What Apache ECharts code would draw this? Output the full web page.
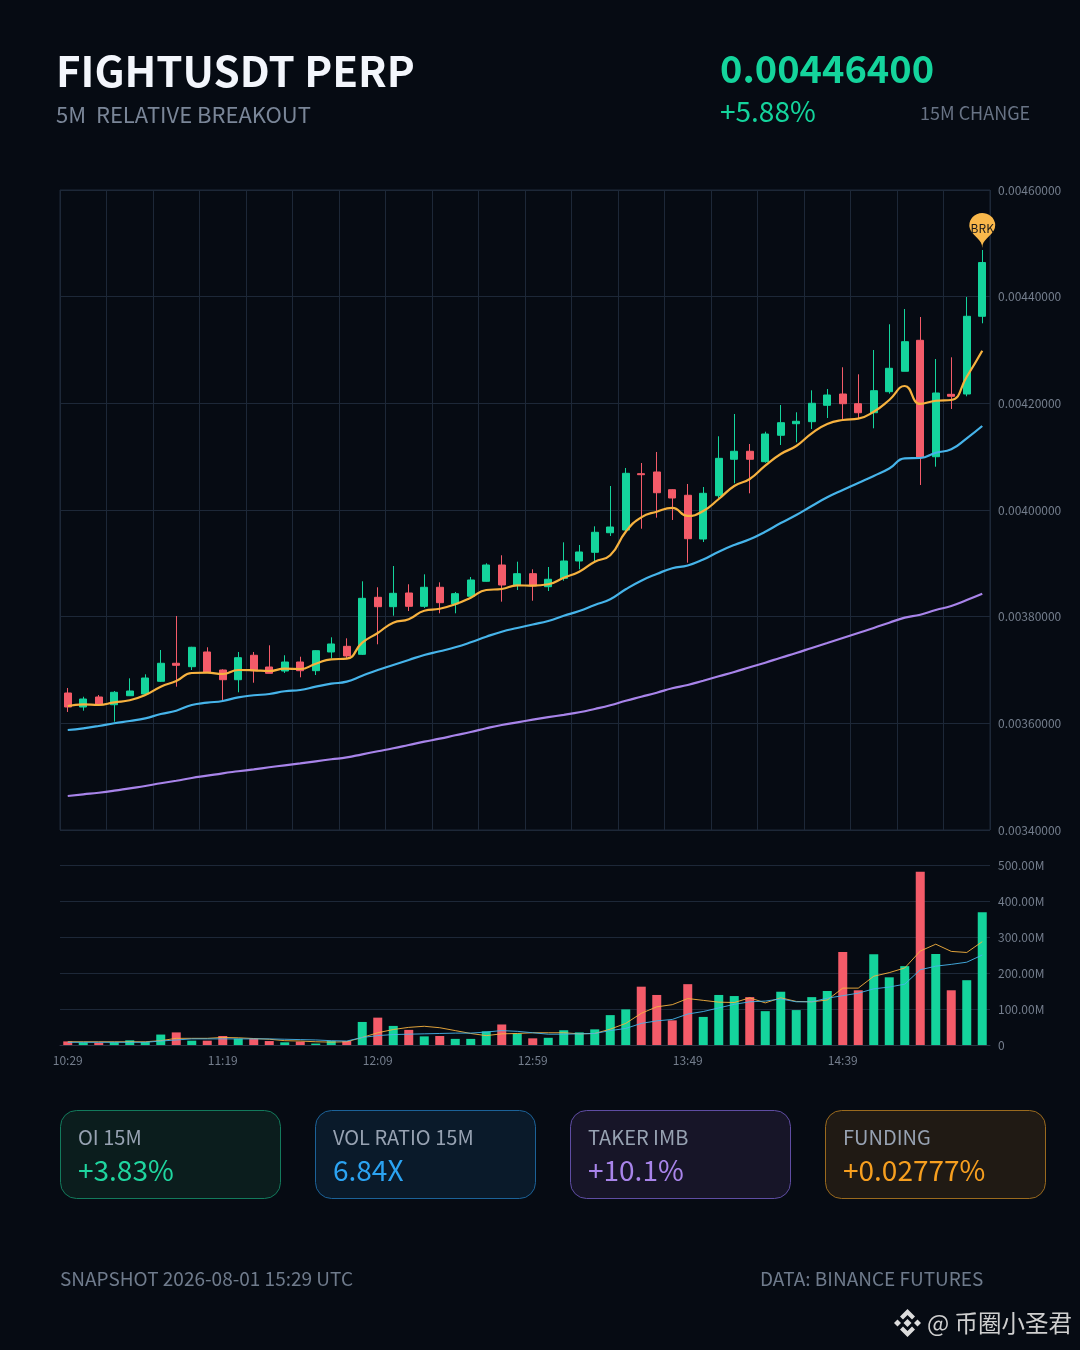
<!DOCTYPE html>
<html>
<head>
<meta charset="utf-8">
<style>
html,body{margin:0;padding:0;background:#060b13;}
#chart{width:1080px;height:1350px;}
</style>
<script src="https://cdn.jsdelivr.net/npm/echarts@6/dist/echarts.min.js"></script>
</head>
<body>
<div id="chart"></div>
<script>
const times = ['10:29','10:34','10:39','10:44','10:49','10:54','10:59','11:04','11:09','11:14','11:19','11:24','11:29','11:34','11:39','11:44','11:49','11:54','11:59','12:04','12:09','12:14','12:19','12:24','12:29','12:34','12:39','12:44','12:49','12:54','12:59','13:04','13:09','13:14','13:19','13:24','13:29','13:34','13:39','13:44','13:49','13:54','13:59','14:04','14:09','14:14','14:19','14:24','14:29','14:34','14:39','14:44','14:49','14:54','14:59','15:04','15:09','15:14','15:19','15:24'];
const opens = [0.0036569,0.0036306,0.0036494,0.0036349,0.0036518,0.0036550,0.0036788,0.0037126,0.0037062,0.0037338,0.0037000,0.0036818,0.0037276,0.0037056,0.0036981,0.0037150,0.0036987,0.0037338,0.0037444,0.0037294,0.0038363,0.0038187,0.0038444,0.0038194,0.0038551,0.0038238,0.0038382,0.0038663,0.0038969,0.0038594,0.0038806,0.0038562,0.0038719,0.0039044,0.0039207,0.0039574,0.0039625,0.0040681,0.0040713,0.0040381,0.0040276,0.0039456,0.0040268,0.0040951,0.0041101,0.0040906,0.0041401,0.0041618,0.0041656,0.0041963,0.0042175,0.0041993,0.0041824,0.0042218,0.0042601,0.0043182,0.0040999,0.0042169,0.0042175,0.0043632];
const closes = [0.0036306,0.0036456,0.0036349,0.0036582,0.0036606,0.0036850,0.0037126,0.0037088,0.0037426,0.0036963,0.0036818,0.0037231,0.0036987,0.0036938,0.0037150,0.0036987,0.0037362,0.0037488,0.0037263,0.0038344,0.0038187,0.0038438,0.0038194,0.0038551,0.0038262,0.0038431,0.0038688,0.0038969,0.0038594,0.0038806,0.0038575,0.0038701,0.0039044,0.0039213,0.0039582,0.0039681,0.0040688,0.0040662,0.0040324,0.0040225,0.0039462,0.0040313,0.0040969,0.0041101,0.0040951,0.0041425,0.0041637,0.0041663,0.0042001,0.0042156,0.0041993,0.0041824,0.0042237,0.0042657,0.0043156,0.0040981,0.0042194,0.0042132,0.0043632,0.0044640];
const lows = [0.0036213,0.0036237,0.0036344,0.0036031,0.0036518,0.0036550,0.0036775,0.0036687,0.0037000,0.0036963,0.0036438,0.0036582,0.0036762,0.0036938,0.0036944,0.0036863,0.0036906,0.0037219,0.0037219,0.0037281,0.0037482,0.0038018,0.0038106,0.0038163,0.0038063,0.0038063,0.0038344,0.0038656,0.0038281,0.0038500,0.0038299,0.0038481,0.0038674,0.0038888,0.0039031,0.0039513,0.0039593,0.0039649,0.0039856,0.0039813,0.0039012,0.0039400,0.0040225,0.0040501,0.0040313,0.0040887,0.0041219,0.0041269,0.0041519,0.0041725,0.0041688,0.0041719,0.0041532,0.0042181,0.0042601,0.0040469,0.0040812,0.0041894,0.0042132,0.0043501];
const highs = [0.0036663,0.0036499,0.0036531,0.0036606,0.0036844,0.0036919,0.0037375,0.0038013,0.0037435,0.0037426,0.0037013,0.0037338,0.0037338,0.0037463,0.0037276,0.0037249,0.0037370,0.0037613,0.0037594,0.0038663,0.0038551,0.0038950,0.0038607,0.0038794,0.0038644,0.0038463,0.0038744,0.0039001,0.0039151,0.0039031,0.0038888,0.0038931,0.0039394,0.0039344,0.0039694,0.0040450,0.0040788,0.0040881,0.0041088,0.0040389,0.0040488,0.0040431,0.0041382,0.0041800,0.0041238,0.0041468,0.0041969,0.0041832,0.0042244,0.0042269,0.0042676,0.0042544,0.0043000,0.0043482,0.0043769,0.0043619,0.0042831,0.0042863,0.0043994,0.0044875];
const maFast = [0.0036325,0.0036357,0.0036344,0.0036394,0.0036432,0.0036531,0.0036687,0.0036794,0.0036944,0.0036949,0.0036925,0.0037000,0.0036994,0.0036981,0.0037024,0.0037019,0.0037118,0.0037201,0.0037212,0.0037512,0.0037694,0.0037887,0.0037951,0.0038112,0.0038149,0.0038232,0.0038356,0.0038500,0.0038519,0.0038588,0.0038581,0.0038607,0.0038731,0.0038843,0.0039031,0.0039151,0.0039593,0.0039863,0.0039968,0.0040038,0.0039888,0.0039981,0.0040206,0.0040450,0.0040581,0.0040831,0.0041050,0.0041200,0.0041438,0.0041613,0.0041688,0.0041712,0.0041843,0.0042063,0.0042325,0.0041988,0.0042049,0.0042063,0.0042499,0.0042987];
const maMid = [0.0035875,0.0035907,0.0035950,0.0036001,0.0036044,0.0036094,0.0036175,0.0036237,0.0036344,0.0036387,0.0036419,0.0036488,0.0036526,0.0036550,0.0036601,0.0036625,0.0036687,0.0036743,0.0036781,0.0036893,0.0037000,0.0037094,0.0037188,0.0037281,0.0037351,0.0037426,0.0037519,0.0037624,0.0037718,0.0037788,0.0037853,0.0037919,0.0038018,0.0038106,0.0038219,0.0038326,0.0038513,0.0038674,0.0038800,0.0038907,0.0038959,0.0039072,0.0039218,0.0039344,0.0039451,0.0039593,0.0039756,0.0039906,0.0040075,0.0040238,0.0040375,0.0040506,0.0040638,0.0040778,0.0040969,0.0040975,0.0041074,0.0041138,0.0041344,0.0041575];
const maSlow = [0.0034638,0.0034669,0.0034699,0.0034737,0.0034782,0.0034825,0.0034876,0.0034924,0.0034975,0.0035018,0.0035063,0.0035101,0.0035138,0.0035176,0.0035213,0.0035249,0.0035288,0.0035326,0.0035361,0.0035419,0.0035476,0.0035532,0.0035594,0.0035656,0.0035712,0.0035776,0.0035838,0.0035907,0.0035969,0.0036019,0.0036068,0.0036115,0.0036160,0.0036207,0.0036269,0.0036338,0.0036424,0.0036499,0.0036574,0.0036657,0.0036719,0.0036799,0.0036882,0.0036963,0.0037051,0.0037137,0.0037231,0.0037319,0.0037413,0.0037506,0.0037600,0.0037694,0.0037788,0.0037887,0.0037981,0.0038037,0.0038125,0.0038200,0.0038313,0.0038431];
const volumes = [10,7,6.5,7.5,13,8,29,35,12,12,25,17.5,17.5,11,7.5,9.5,4,11,11,64,76,53,42,24,25,17,17,38,57,31.5,18.5,20,41,35,43.5,83,99,162,139,68.5,169,78,139,136,133,94,148,97,133,150,258,152,252,188,219,481,253,152,180,369];
const volMaFast = [9,9,9,9,9,9,12,18.5,18.5,18.5,21,20,18,16,12,11,9,8,9,21,34,43,49,52,48,40,32,26,31,32,34,34,34,31,32,44,60,88,106,112,129,124,119,118,131,117,131,121,120,125,158,158,191,201,214,261,280,260,257,287];
const volMaMid = [7.5,7.5,7.5,7.5,7.5,7.5,11,14,17,17,17,17,17,17,16,15,14,12,11,21,26,29,30,31,32,33,33,36,40,38,34,30,30,31,32,40,46,60,67,71,86,93,103,113,120,122,128,120,120,130,137,144,156,161,169,209,219,224,230,250];
const priceTicks = {min:0.0034,max:0.0046,interval:0.0002};
const volumeTicks = {min:0,max:500,interval:100};

const UP='#14d49c',DOWN='#f45b69',ORANGE='#f7b23f',BLUE='#46b4ea',PURPLE='#a884ea';
const GRIDC='#1d2838',FONT='"Noto Sans CJK SC","Noto Sans",sans-serif',AXC='#747e8d';
const isUp=i=>closes[i]>=opens[i];
const lineSeries=(data,color,width,xi,yi,smooth,opacity)=>({type:'line',data,xAxisIndex:xi,yAxisIndex:yi,smooth,showSymbol:false,symbol:'none',silent:true,animation:false,lineStyle:{color,width,opacity},z:5});
const txt=(x,y,text,size,fill,weight,align)=>({type:'text',x,y,silent:true,style:{text,fontSize:size,fill,fontWeight:weight||'normal',fontFamily:FONT,align:align||'left',verticalAlign:'middle'}});
const card=(x,fill,stroke,label,value,vcolor)=>[
 {type:'rect',x,y:1110.5,shape:{width:220,height:88,r:16},style:{fill,stroke,lineWidth:1},silent:true},
 txt(x+17.5,1137.5,label,20,'#97a2b2'),
 txt(x+17.5,1170.5,value,28,vcolor)
];
const logoPiece=pts=>({type:'polygon',silent:true,shape:{points:pts},style:{fill:'#dcdcdc'}});
const logoPieces=[
 [[907.5,1319],[911.5,1323],[907.5,1327],[903.5,1323]],
 [[897.5,1319.5],[901,1323],[897.5,1326.5],[894,1323]],
 [[917.5,1319.5],[921,1323],[917.5,1326.5],[914,1323]],
 [[907.5,1309],[915,1316.5],[912,1319.5],[907.5,1315],[903,1319.5],[900,1316.5]],
 [[907.5,1337],[915,1329.5],[912,1326.5],[907.5,1331],[903,1326.5],[900,1329.5]]
];

const option={
 backgroundColor:'#060b13',
 animation:false,
 textStyle:{fontFamily:FONT},
 grid:[
  {left:60,right:90,top:190,height:640,show:true,borderColor:GRIDC,borderWidth:1,backgroundColor:'transparent'},
  {left:60,right:90,top:865,height:180}
 ],
 xAxis:[
  {type:'category',gridIndex:0,data:times,boundaryGap:true,axisLine:{show:false},axisTick:{show:false},axisLabel:{show:false},splitLine:{show:true,interval:2,lineStyle:{color:GRIDC,width:1}}},
  {type:'category',gridIndex:1,data:times,boundaryGap:true,axisLine:{show:true,lineStyle:{color:'#2a3342'}},axisTick:{show:false},axisLabel:{interval:9,color:AXC,fontSize:12,margin:9,fontFamily:FONT},splitLine:{show:false}}
 ],
 yAxis:[
  {type:'value',gridIndex:0,position:'right',min:priceTicks.min,max:priceTicks.max,interval:priceTicks.interval,axisLine:{show:false},axisTick:{show:false},axisLabel:{color:AXC,fontSize:12,margin:8,padding:[1,0,0,0],fontFamily:FONT,formatter:v=>v.toFixed(8)},splitLine:{show:true,lineStyle:{color:GRIDC,width:1}}},
  {type:'value',gridIndex:1,position:'right',min:volumeTicks.min,max:volumeTicks.max,interval:volumeTicks.interval,axisLine:{show:false},axisTick:{show:false},axisLabel:{color:AXC,fontSize:12,margin:8,padding:[2,0,0,0],fontFamily:FONT,formatter:v=>v===0?'0':v.toFixed(2)+'M'},splitLine:{show:true,lineStyle:{color:GRIDC,width:1}}}
 ],
 series:[
  {type:'candlestick',xAxisIndex:0,yAxisIndex:0,barWidth:7.6,silent:true,
   data:times.map((_,i)=>[opens[i],closes[i],lows[i],highs[i]]),
   itemStyle:{color:UP,color0:DOWN,borderColor:UP,borderColor0:DOWN,borderWidth:1},
   markPoint:{symbol:'pin',symbolSize:[43,40],symbolOffset:[0,-2],silent:true,animation:false,
    itemStyle:{color:'#f9b84b'},
    label:{show:true,formatter:'BRK',color:'#1a1a1a',fontSize:12,fontFamily:FONT,offset:[0,1]},
    data:[{coord:[times[times.length-1],highs[highs.length-1]]}]}
  },
  lineSeries(maFast,ORANGE,2.2,0,0,true,1),
  lineSeries(maMid,BLUE,2.2,0,0,true,1),
  lineSeries(maSlow,PURPLE,2.2,0,0,true,1),
  {type:'bar',xAxisIndex:1,yAxisIndex:1,barWidth:9,silent:true,
   data:volumes.map((v,i)=>({value:v,itemStyle:{color:isUp(i)?UP:DOWN}}))},
  lineSeries(volMaFast,ORANGE,1,1,1,false,0.9),
  lineSeries(volMaMid,BLUE,1,1,1,false,0.9)
 ],
 graphic:{elements:[
  txt(56,71,'FIGHTUSDT PERP',42,'#f3f6fc','bold'),
  txt(56,115,'5M  RELATIVE BREAKOUT',22,'#7a8698'),
  txt(720,69,'0.00446400',38,UP,'bold'),
  txt(720,111.5,'+5.88%',28,UP),
  txt(920,113,'15M CHANGE',18,'#687385'),
  ...card(60.5,'#0b1d1d','#137a5c','OI 15M','+3.83%','#1fd59f'),
  ...card(315.5,'#0a1a2a','#1c6298','VOL RATIO 15M','6.84X','#2ba3f2'),
  ...card(570.5,'#171528','#5f4da3','TAKER IMB','+10.1%','#a884ea'),
  ...card(825.5,'#201a14','#9a6a1e','FUNDING','+0.02777%','#f79f1f'),
  txt(60,1279,'SNAPSHOT 2026-08-01 15:29 UTC',19,'#6f7b8c'),
  txt(760,1279,'DATA: BINANCE FUTURES',19,'#6f7b8c'),
  ...logoPieces.map(logoPiece),
  txt(927,1323,'@ 币圈小圣君',23.5,'#cfcfcf')
 ]}
};
const chart=echarts.init(document.getElementById('chart'),null,{width:1080,height:1350,renderer:'canvas'});
chart.setOption(option);
</script>
</body>
</html>
